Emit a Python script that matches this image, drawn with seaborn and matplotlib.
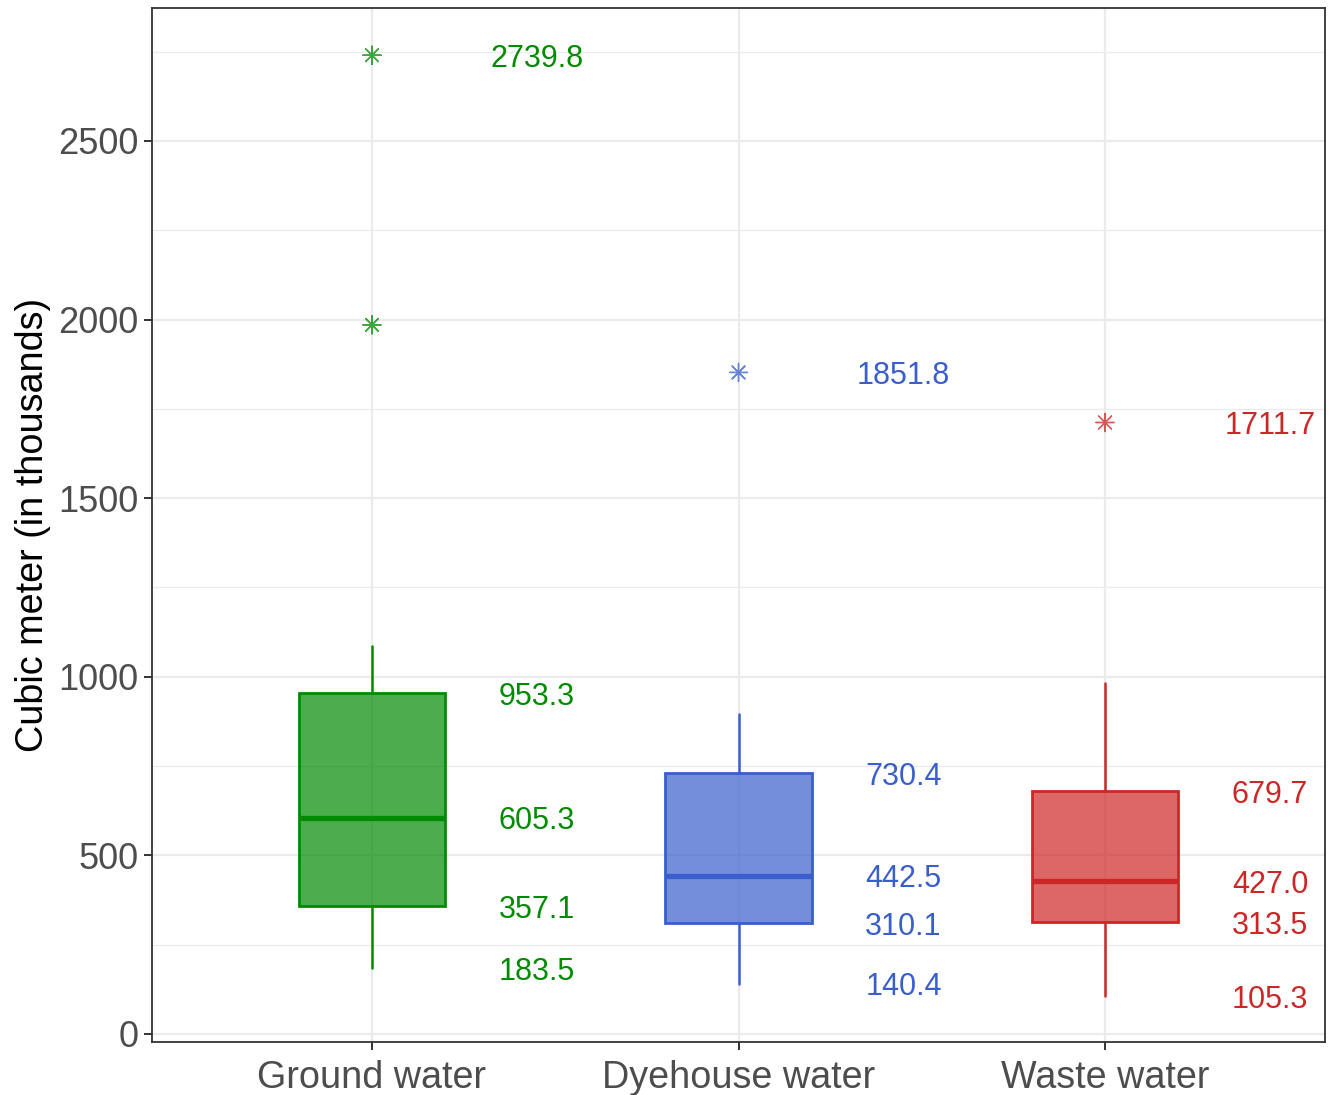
import matplotlib
matplotlib.use("Agg")
import matplotlib.pyplot as plt
import seaborn as sns
import pandas as pd

# 各水源的箱型圖統計值 (千立方公尺)
categories = ["Ground water", "Dyehouse water", "Waste water"]
whisker_low = [183.5, 140.4, 105.3]
q1 = [357.1, 310.1, 313.5]
median = [605.3, 442.5, 427.0]
q3 = [953.3, 730.4, 679.7]
whisker_high = [1085.0, 896.0, 983.0]
outlier_group = ["Ground water", "Ground water", "Dyehouse water", "Waste water"]
outlier_value = [2739.8, 1985.0, 1851.8, 1711.7]

colors = ["#008B00", "#3A5FCD", "#CD2626"]

sns.set_theme(style="whitegrid")
plt.rcParams["font.family"] = ["Liberation Sans", "DejaVu Sans"]

fig, ax = plt.subplots(figsize=(13.35, 10.95), dpi=100)
fig.subplots_adjust(left=0.1139, right=0.9925, top=0.9927, bottom=0.0484)

stats = []
for i, cat in enumerate(categories):
    stats.append({"label": cat, "whislo": whisker_low[i], "q1": q1[i], "med": median[i],
                  "q3": q3[i], "whishi": whisker_high[i], "fliers": []})

pos = list(range(len(categories)))
bp = ax.bxp(stats, positions=pos, widths=0.4, patch_artist=True, showcaps=False,
            showfliers=False, manage_ticks=False, zorder=3)
for i, c in enumerate(colors):
    bp["boxes"][i].set_facecolor(matplotlib.colors.to_rgba(c, 0.7))
    bp["boxes"][i].set_edgecolor(c)
    bp["boxes"][i].set_linewidth(2.0)
    bp["medians"][i].set_color(c)
    bp["medians"][i].set_linewidth(3.8)
    bp["medians"][i].set_solid_capstyle("butt")
    for w in bp["whiskers"][2 * i:2 * i + 2]:
        w.set_color(c)
        w.set_linewidth(1.8)

# 離群值
df_out = pd.DataFrame({"group": outlier_group, "value": outlier_value})
df_out["x"] = df_out["group"].map({c: i for i, c in enumerate(categories)})
sns.scatterplot(data=df_out, x="x", y="value", hue="group", hue_order=categories,
                palette=colors, marker=(8, 2, 0), s=170, linewidth=1.0,
                alpha=0.75, legend=False, ax=ax, zorder=4)

# 數值標籤
for i, c in enumerate(colors):
    for v in [whisker_low[i], q1[i], median[i], q3[i]]:
        ax.text(i + 0.45, v, f"{v:.1f}", color=c, fontsize=22, ha="center", va="center_baseline")
for g, v in zip(outlier_group, outlier_value):
    i = categories.index(g)
    if v == max(vv for gg, vv in zip(outlier_group, outlier_value) if gg == g):
        ax.text(i + 0.45, v, f"{v:.1f}", color=colors[i], fontsize=22, ha="center", va="center_baseline")

ax.set_xlim(-0.6, 2.6)
ax.set_ylim(-22.4, 2872)
ax.set_xticks(pos)
ax.set_xticklabels(categories)
ax.set_yticks([0, 500, 1000, 1500, 2000, 2500])
ax.set_yticks([250, 750, 1250, 1750, 2250, 2750], minor=True)
ax.set_xlabel("")
ax.set_ylabel("Cubic meter (in thousands)", fontsize=27.2, color="black", labelpad=5)

ax.grid(True, which="major", color="#EBEBEB", linewidth=1.6)
ax.grid(True, which="minor", axis="y", color="#EBEBEB", linewidth=0.9)
ax.set_axisbelow(True)
for s in ax.spines.values():
    s.set_color("#333333")
    s.set_linewidth(1.3)
ax.tick_params(axis="y", which="major", labelsize=26, colors="#333333", labelcolor="#4D4D4D",
               length=6, width=1.4, pad=4, left=True)
ax.tick_params(axis="y", which="minor", length=0)
ax.tick_params(axis="x", which="major", labelsize=27.2, colors="#333333", labelcolor="#4D4D4D",
               length=6, width=1.4, pad=7, bottom=True)

fig.savefig("out.png", dpi=100)
